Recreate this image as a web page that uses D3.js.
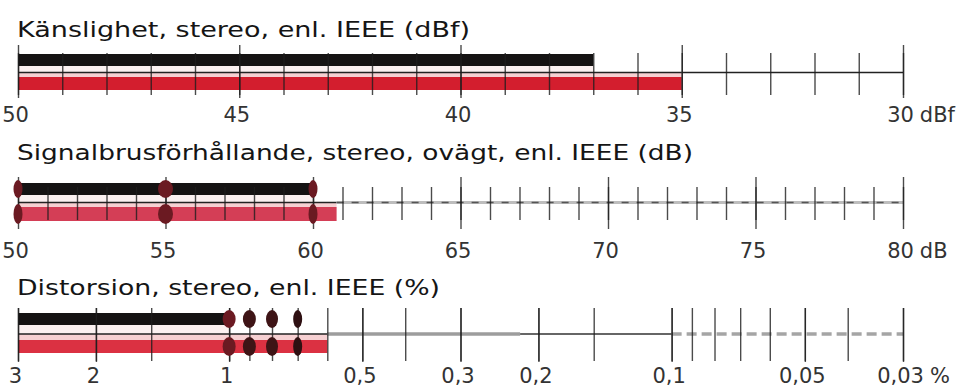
<!DOCTYPE html>
<html><head><meta charset="utf-8">
<script src="https://cdn.jsdelivr.net/npm/d3@7"></script>
<style>
body{margin:0;background:#fff}
svg{display:block}
text{font-family:"DejaVu Sans","Liberation Sans",Arial,sans-serif}
</style></head><body>
<svg id="chart" width="964" height="391"></svg>
<script>
// Känslighet (dBf)
var sensTicks = [50,49,48,47,46,45,44,43,42,41,40,39,38,37,36,35,34,33,32,31,30];
var sensMajor = [50,45,40,35,30];
var sensLabels = ["50","45","40","35","30"];
var sensBlack = 37, sensRed = 35;

// Signalbrusförhållande (dB)
var snrTicks = [50,51,52,53,54,55,56,57,58,59,60,61,62,63,64,65,66,67,68,69,70,71,72,73,74,75,76,77,78,79,80];
var snrMajor = [50,55,60,65,70,75,80];
var snrLabels = ["50","55","60","65","70","75","80"];
var snrBlack = 60, snrRed = 60.8;
var snrBlobs = [50,55,60];

// Distorsion (%)
var distTicks = [3,2,1.5,1,0.9,0.8,0.7,0.6,0.5,0.4,0.3,0.2,0.15,0.1,0.09,0.08,0.07,0.06,0.05,0.04,0.03];
var distMajor = [3,2,1,0.5,0.3,0.2,0.1,0.05,0.03];
var distLabels = ["3","2","1","0,5","0,3","0,2","0,1","0,05","0,03"];
var distBlack = 1.0, distRed = 0.6;
var distBlobs = [1,0.9,0.8,0.7];

var svg = d3.select("#chart");
var X0 = 18, X1 = 903;
var FONT = '"DejaVu Sans","Liberation Sans",Arial,sans-serif';

function drawPanel(o) {
  var g = svg.append("g");
  var x = o.x;
  var xb = x(o.black), xr = x(o.red);

  g.append("text").attr("x", 17).attr("y", o.titleY)
    .attr("font-size", 22).attr("fill", "#151515")
    .attr("textLength", o.titleW).attr("lengthAdjust", "spacingAndGlyphs")
    .text(o.title);

  // pale strips round the axis line
  g.append("rect").attr("x", X0).attr("y", o.bk[1]).attr("width", xb - X0)
    .attr("height", o.lineY - o.bk[1]).attr("fill", "#fbf1f1");
  g.append("rect").attr("x", X0).attr("y", o.lineY).attr("width", xr - X0)
    .attr("height", o.rd[0] - o.lineY).attr("fill", "#f6d0d2");

  // bars
  g.append("rect").attr("x", X0).attr("y", o.bk[0]).attr("width", xb - X0)
    .attr("height", o.bk[1] - o.bk[0]).attr("fill", "#151313");
  g.append("rect").attr("x", X0).attr("y", o.rd[0]).attr("width", xr - X0)
    .attr("height", o.rd[1] - o.rd[0]).attr("fill", o.redColor);

  // axis line inside the bars
  g.append("line").attr("x1", X0).attr("x2", xr).attr("y1", o.lineY).attr("y2", o.lineY)
    .attr("stroke", "#222").attr("stroke-width", 1.5);
  // axis line beyond the bars
  o.rest(g, xr);

  // ticks
  var minor = d3.axisBottom(x).tickValues(o.ticks).tickSizeInner(o.minor[1] - o.minor[0])
    .tickSizeOuter(0).tickFormat("");
  var major = d3.axisBottom(x).tickValues(o.major).tickSizeInner(o.majorT[1] - o.majorT[0])
    .tickSizeOuter(0).tickFormat("");
  [[minor, o.minor[0]], [major, o.majorT[0]]].forEach(function (a) {
    var ag = g.append("g").attr("transform", "translate(0," + a[1] + ")").call(a[0]);
    ag.select(".domain").remove();
    ag.selectAll("line").attr("stroke", "#1e1e1e").attr("stroke-width", 1.4).attr("stroke-opacity", 0.8);
  });

  // dark ink blobs where ticks cross the bars
  (o.blobs || []).forEach(function (v, i) {
    var cx = x(v);
    var w = o.blobW ? o.blobW[i] : 6.5;
    var col = o.blobCol ? o.blobCol[i] : "#6b1a22";
    [[(o.bk[0] + o.bk[1]) / 2, (o.bk[1] - o.bk[0]) / 2 + 3], [(o.rd[0] + o.rd[1]) / 2, (o.rd[1] - o.rd[0]) / 2 + 3]]
      .forEach(function (r) {
        g.append("ellipse").attr("cx", cx).attr("cy", r[0]).attr("rx", w).attr("ry", r[1]).attr("fill", col);
      });
  });

  // labels
  var lab = d3.axisBottom(x).tickValues(o.major).tickSize(0).tickPadding(0)
    .tickFormat(function (d, i) { return o.labels[i]; });
  var lg = g.append("g").attr("transform", "translate(-3," + o.labelTop + ")").call(lab);
  lg.select(".domain").remove();
  lg.selectAll("text").attr("font-size", 21)
    .attr("fill", "#333").attr("font-family", FONT);
  var last = lg.selectAll("text").nodes().pop();
  var bb = last.getBBox();
  var tr = last.parentNode.getAttribute("transform").match(/translate\(([-\d.]+)/);
  g.append("text").attr("x", +tr[1] - 3 + bb.x + bb.width + 6).attr("y", o.labelTop).attr("dy", "0.71em")
    .attr("font-size", 21).attr("fill", "#333").text(o.unit);
}

drawPanel({
  title: "Känslighet, stereo, enl. IEEE (dBf)", titleY: 37, titleW: 453,
  x: d3.scaleLinear().domain([50, 30]).range([X0, X1]),
  ticks: sensTicks, major: sensMajor, labels: sensLabels, unit: "dBf",
  black: sensBlack, red: sensRed, redColor: "#d31e2e",
  bk: [54, 66], lineY: 72.5, rd: [77, 90],
  minor: [53, 95], majorT: [45, 98], labelTop: 107,
  rest: function (g, xr) {
    g.append("line").attr("x1", xr).attr("x2", X1).attr("y1", 72.5).attr("y2", 72.5)
      .attr("stroke", "#222").attr("stroke-width", 1.5);
  }
});

drawPanel({
  title: "Signalbrusförhållande, stereo, ovägt, enl. IEEE (dB)", titleY: 160, titleW: 676,
  x: d3.scaleLinear().domain([50, 80]).range([X0, X1]),
  ticks: snrTicks, major: snrMajor, labels: snrLabels, unit: "dB",
  black: snrBlack, red: snrRed, redColor: "#d43e56",
  bk: [183, 195], lineY: 202.5, rd: [207, 221],
  minor: [187, 220], majorT: [177, 229], labelTop: 243,
  blobs: snrBlobs, blobW: [4.5, 7.5, 4.5],
  rest: function (g, xr) {
    g.append("line").attr("x1", xr).attr("x2", X1).attr("y1", 202.5).attr("y2", 202.5)
      .attr("stroke", "#bdbdbd").attr("stroke-width", 3);
    g.append("line").attr("x1", xr).attr("x2", X1).attr("y1", 202.5).attr("y2", 202.5)
      .attr("stroke", "#555").attr("stroke-width", 1.6).attr("stroke-dasharray", "7,8");
  }
});

var xd = d3.scaleLog().domain([3, 0.03]).range([X0, X1]);
drawPanel({
  title: "Distorsion, stereo, enl. IEEE (%)", titleY: 295, titleW: 423,
  x: xd,
  ticks: distTicks, major: distMajor, labels: distLabels, unit: "%",
  black: distBlack, red: distRed, redColor: "#db3142",
  bk: [313, 325], lineY: 334, rd: [340, 353],
  minor: [308, 361], majorT: [308, 362], labelTop: 368,
  blobs: distBlobs, blobW: [6.5, 6.5, 6, 4.5], blobCol: ["#6b1a22", "#3e1416", "#3e1416", "#2e1012"],
  rest: function (g, xr) {
    g.append("line").attr("x1", xr).attr("x2", xd(0.22)).attr("y1", 334).attr("y2", 334)
      .attr("stroke", "#9d9d9d").attr("stroke-width", 3.5);
    g.append("line").attr("x1", xd(0.22)).attr("x2", xd(0.1)).attr("y1", 334).attr("y2", 334)
      .attr("stroke", "#333").attr("stroke-width", 1.6);
    g.append("line").attr("x1", xd(0.1)).attr("x2", X1).attr("y1", 334).attr("y2", 334)
      .attr("stroke", "#a5a5a5").attr("stroke-width", 3.5).attr("stroke-dasharray", "10,5");
  }
});
</script>
</body></html>
